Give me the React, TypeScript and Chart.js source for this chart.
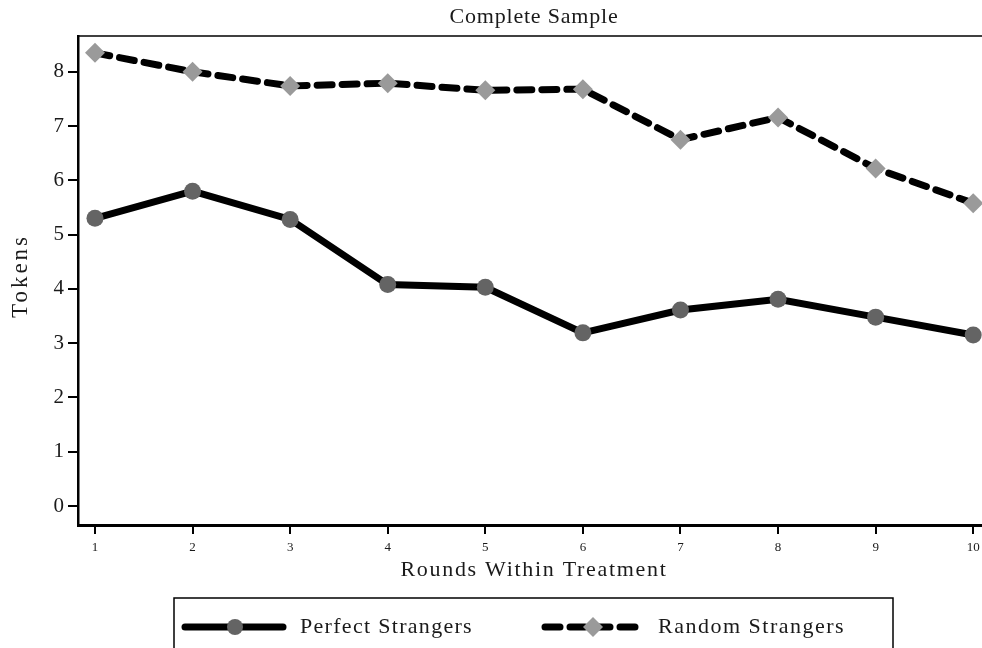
import React, { useEffect, useRef } from "react";
import { Chart, registerables } from "chart.js";

Chart.register(...registerables);

const chartTitle = "Complete Sample";
const xAxisTitle = "Rounds Within Treatment";
const yAxisTitle = "Tokens";
const rounds = [1, 2, 3, 4, 5, 6, 7, 8, 9, 10];
const perfectStrangers = [5.3, 5.8, 5.28, 4.08, 4.03, 3.19, 3.61, 3.81, 3.48, 3.15];
const randomStrangers = [8.35, 8.0, 7.74, 7.79, 7.66, 7.68, 6.75, 7.16, 6.22, 5.58];
const seriesNames = ["Perfect Strangers", "Random Strangers"];
const yTicks = [0, 1, 2, 3, 4, 5, 6, 7, 8];
const xTicks = [1, 2, 3, 4, 5, 6, 7, 8, 9, 10];

const FONT = '"Liberation Serif", "DejaVu Serif", serif';
const TEXT = "#1a1a1a";
const CIRCLE = "#646464";
const DIAMOND = "#9a9a9a";
const DASH = [15, 10];

function spaced(ctx: any, text: string, x: number, y: number, spacing: number, align: "left" | "center") {
  ctx.save();
  try {
    ctx.letterSpacing = `${spacing}px`;
  } catch (e) {}
  ctx.textAlign = align;
  ctx.fillText(text, x, y);
  ctx.restore();
}

const decorPlugin = {
  id: "decor",
  afterDraw(chart: any) {
    const ctx = chart.ctx;
    const a = chart.chartArea;
    ctx.save();
    // top frame line
    ctx.strokeStyle = "#000";
    ctx.lineWidth = 1.5;
    ctx.beginPath();
    ctx.moveTo(a.left, a.top);
    ctx.lineTo(chart.width, a.top);
    ctx.stroke();

    ctx.fillStyle = TEXT;
    ctx.textBaseline = "middle";
    ctx.font = `22px ${FONT}`;
    spaced(ctx, chartTitle, 534, 17, 0.8, "center");
    spaced(ctx, xAxisTitle, 534, 570, 1.7, "center");

    ctx.save();
    ctx.translate(21, 276);
    ctx.rotate(-Math.PI / 2);
    ctx.font = `23px ${FONT}`;
    spaced(ctx, yAxisTitle, 0, 0, 3, "center");
    ctx.restore();

    // legend
    ctx.strokeStyle = "#000";
    ctx.lineWidth = 1.5;
    ctx.strokeRect(174, 598, 719, 70);

    const ly = 627;
    ctx.lineCap = "round";
    ctx.lineWidth = 7;
    ctx.beginPath();
    ctx.moveTo(185, ly);
    ctx.lineTo(283, ly);
    ctx.stroke();
    ctx.fillStyle = CIRCLE;
    ctx.beginPath();
    ctx.arc(235, ly, 8, 0, Math.PI * 2);
    ctx.fill();

    ctx.setLineDash(DASH);
    ctx.beginPath();
    ctx.moveTo(545, ly);
    ctx.lineTo(641, ly);
    ctx.stroke();
    ctx.setLineDash([]);
    ctx.fillStyle = DIAMOND;
    ctx.beginPath();
    ctx.moveTo(593, ly - 10);
    ctx.lineTo(603, ly);
    ctx.lineTo(593, ly + 10);
    ctx.lineTo(583, ly);
    ctx.closePath();
    ctx.fill();

    ctx.fillStyle = TEXT;
    ctx.font = `22px ${FONT}`;
    spaced(ctx, seriesNames[0], 300, ly, 1.3, "left");
    spaced(ctx, seriesNames[1], 658, ly, 1.5, "left");
    ctx.restore();
  },
};

export default function App() {
  const ref = useRef<HTMLCanvasElement | null>(null);
  useEffect(() => {
    if (!ref.current) return;
    Chart.defaults.font.family = FONT;
    const chart = new Chart(ref.current, {
      type: "line",
      data: {
        datasets: [
          {
            label: seriesNames[0],
            data: rounds.map((r, i) => ({ x: r, y: perfectStrangers[i] })),
            borderColor: "#000",
            borderWidth: 7,
            pointStyle: "circle",
            pointRadius: 8.5,
            pointBackgroundColor: CIRCLE,
            pointBorderWidth: 0,
            tension: 0,
          },
          {
            label: seriesNames[1],
            data: rounds.map((r, i) => ({ x: r, y: randomStrangers[i] })),
            borderColor: "#000",
            borderWidth: 7,
            borderDash: DASH,
            borderCapStyle: "round",
            pointStyle: "rectRot",
            pointRadius: 10,
            pointBackgroundColor: DIAMOND,
            pointBorderWidth: 0,
            tension: 0,
          },
        ],
      },
      options: {
        animation: false,
        responsive: false,
        devicePixelRatio: 1,
        layout: { autoPadding: false, padding: { top: 36, right: 0, left: 0, bottom: 0 } },
        plugins: { legend: { display: false }, title: { display: false }, tooltip: { enabled: false } },
        scales: {
          x: {
            type: "linear",
            min: 0.826,
            max: 10.09,
            afterBuildTicks: (s: any) => {
              s.ticks = xTicks.map((v) => ({ value: v }));
            },
            afterFit: (s: any) => {
              s.height = 123;
              s.paddingLeft = 0;
              s.paddingRight = 0;
            },
            grid: { drawOnChartArea: false, drawTicks: true, tickLength: 9, color: "#000", lineWidth: 2 },
            border: { display: true, color: "#000", width: 3 },
            ticks: { color: TEXT, font: { size: 13, family: FONT }, padding: 6, maxRotation: 0, autoSkip: false },
          },
          y: {
            type: "linear",
            min: -0.35,
            max: 8.66,
            afterBuildTicks: (s: any) => {
              s.ticks = yTicks.map((v) => ({ value: v }));
            },
            afterFit: (s: any) => {
              s.width = 78;
              s.paddingTop = 0;
              s.paddingBottom = 0;
            },
            grid: { drawOnChartArea: false, drawTicks: true, tickLength: 10, color: "#000", lineWidth: 2 },
            border: { display: true, color: "#000", width: 2.5 },
            ticks: { color: TEXT, font: { size: 21, family: FONT }, padding: 4 },
          },
        },
      },
      plugins: [decorPlugin],
    } as any);
    return () => chart.destroy();
  }, []);
  return (
    <div style={{ position: "fixed", left: 0, top: 0, width: 982, height: 648, background: "#fff" }}>
      <canvas ref={ref} width={982} height={648} style={{ display: "block", width: 982, height: 648 }} />
    </div>
  );
}
